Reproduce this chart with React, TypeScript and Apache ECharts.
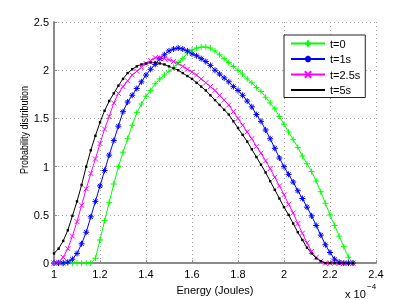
import React, { useEffect, useRef } from "react";
import * as echarts from "echarts";

const energy = [
  1.0, 1.02, 1.04, 1.06, 1.08, 1.1, 1.12, 1.14, 1.16, 1.18,
  1.2, 1.22, 1.24, 1.26, 1.28, 1.3, 1.32, 1.34, 1.36, 1.38,
  1.4, 1.42, 1.44, 1.46, 1.48, 1.5, 1.52, 1.54, 1.56, 1.58,
  1.6, 1.62, 1.64, 1.66, 1.68, 1.7, 1.72, 1.74, 1.76, 1.78,
  1.8, 1.82, 1.84, 1.86, 1.88, 1.9, 1.92, 1.94, 1.96, 1.98,
  2.0, 2.02, 2.04, 2.06, 2.08, 2.1, 2.12, 2.14, 2.16, 2.18,
  2.2, 2.22, 2.24, 2.26, 2.28, 2.3,
];

const pT0 = [
  0, 0, 0, 0, 0, 0, 0, 0, 0, 0.05,
  0.24, 0.44, 0.63, 0.82, 1.0, 1.15, 1.29, 1.43, 1.56, 1.65,
  1.73, 1.79, 1.86, 1.91, 1.95, 1.99, 2.03, 2.08, 2.12, 2.18,
  2.21, 2.23, 2.24, 2.24, 2.23, 2.2, 2.16, 2.12, 2.08, 2.04,
  2.0, 1.96, 1.91, 1.87, 1.82, 1.78, 1.72, 1.66, 1.6, 1.52,
  1.44, 1.36, 1.28, 1.2, 1.11, 1.03, 0.95, 0.85, 0.74, 0.62,
  0.5, 0.39, 0.28, 0.17, 0.06, 0,
];

const pT1 = [
  0, 0, 0, 0.01, 0.04, 0.1, 0.2, 0.32, 0.48, 0.64,
  0.8, 0.96, 1.12, 1.27, 1.42, 1.57, 1.67, 1.74, 1.81, 1.88,
  1.95, 2.01, 2.06, 2.12, 2.16, 2.2, 2.22, 2.23, 2.22, 2.2,
  2.17, 2.15, 2.12, 2.09, 2.05, 2.0, 1.96, 1.92, 1.88, 1.83,
  1.79, 1.74, 1.68, 1.62, 1.54, 1.47, 1.38, 1.29, 1.19, 1.09,
  1.0, 0.92, 0.84, 0.75, 0.67, 0.58, 0.49, 0.39, 0.29, 0.19,
  0.11, 0.04, 0.01, 0, 0, 0,
];

const pT25 = [
  0, 0.01, 0.06, 0.15, 0.28, 0.43, 0.6, 0.77, 0.93, 1.08,
  1.24, 1.39, 1.52, 1.66, 1.76, 1.83, 1.89, 1.95, 1.99, 2.03,
  2.07, 2.1, 2.13, 2.13, 2.12, 2.11, 2.09, 2.07, 2.04, 2.01,
  1.98, 1.95, 1.91, 1.87, 1.83, 1.79, 1.74, 1.69, 1.64, 1.57,
  1.5, 1.43, 1.36, 1.29, 1.21, 1.14, 1.06, 0.98, 0.89, 0.8,
  0.71, 0.61, 0.52, 0.41, 0.31, 0.21, 0.12, 0.06, 0.02, 0,
  0, 0, 0, 0, 0, 0,
];

const pT5 = [
  0.1, 0.15, 0.23, 0.34, 0.49, 0.64, 0.81, 1.0, 1.17, 1.32,
  1.46, 1.58, 1.68, 1.76, 1.84, 1.91, 1.97, 2.01, 2.04, 2.06,
  2.07, 2.08, 2.08, 2.07, 2.06, 2.04, 2.02, 2.0, 1.97, 1.94,
  1.91, 1.87, 1.83, 1.79, 1.74, 1.69, 1.64, 1.59, 1.54, 1.47,
  1.4, 1.33, 1.26, 1.18, 1.1, 1.02, 0.94, 0.85, 0.76, 0.67,
  0.58, 0.5, 0.41, 0.32, 0.24, 0.16, 0.1, 0.05, 0.02, 0,
  0, 0, 0, 0, 0, 0,
];

const seriesNames = ["t=0", "t=1s", "t=2.5s", "t=5s"];
const xTicks = { min: 1, max: 2.4, interval: 0.2 };
const yTicks = { min: 0, max: 2.5, interval: 0.5 };

const FONT = "'Liberation Sans', Arial, Helvetica, sans-serif";

const PLUS = "path://M5,0L5,10M0,5L10,5";
const CROSS = "path://M0,0L10,10M10,0L0,10";
const STAR = "path://M5,0L5,10M0,5L10,5M1.5,1.5L8.5,8.5M8.5,1.5L1.5,8.5";
const DOT = "path://M0,0L0,0M10,10L10,10M4,4L6,4L6,6L4,6Z";

function pairs(ys: number[]) {
  return energy.map((x, i) => [x, ys[i]]);
}

export default function App() {
  const ref = useRef<HTMLDivElement>(null);
  useEffect(() => {
    if (!ref.current) return;
    const chart = echarts.init(ref.current, undefined, { renderer: "svg" });
    const mk = (name: string, ys: number[], color: string, symbol: string, size: number, bw: number) => ({
      name,
      type: "line",
      data: pairs(ys),
      showSymbol: true,
      showAllSymbol: true,
      symbol,
      symbolSize: size,
      lineStyle: { color, width: 1 },
      itemStyle: { color, borderColor: color, borderWidth: bw },
      emphasis: { disabled: true },
    });
    chart.setOption({
      animation: false,
      textStyle: { fontFamily: FONT },
      grid: { left: 54, right: 39, top: 22, bottom: 34 },
      xAxis: {
        type: "value",
        min: xTicks.min,
        max: xTicks.max,
        interval: xTicks.interval,
        name: "Energy (Joules)",
        nameLocation: "middle",
        nameGap: 18,
        nameTextStyle: { color: "#000", fontSize: 11, fontFamily: FONT },
        axisLine: { show: true, lineStyle: { color: "#8a8a8a", width: 2 } },
        axisTick: { show: true, inside: true, length: 3, lineStyle: { color: "#8a8a8a" } },
        axisLabel: {
          color: "#000",
          fontSize: 11,
          fontFamily: FONT,
          margin: 5,
          formatter: (v: number) => String(+v.toFixed(1)),
        },
        splitLine: { show: true, lineStyle: { color: "#a0a0a0", type: [1, 3], width: 1 } },
      },
      yAxis: {
        type: "value",
        min: yTicks.min,
        max: yTicks.max,
        interval: yTicks.interval,
        axisLine: { show: true, lineStyle: { color: "#8a8a8a", width: 2 } },
        axisTick: { show: true, inside: true, length: 3, lineStyle: { color: "#8a8a8a" } },
        axisLabel: {
          color: "#000",
          fontSize: 11,
          fontFamily: FONT,
          margin: 5,
          formatter: (v: number) => String(+v.toFixed(1)),
        },
        splitLine: { show: true, lineStyle: { color: "#a0a0a0", type: [1, 3], width: 1 } },
      },
      legend: {
        orient: "vertical",
        left: 284,
        top: 35,
        padding: [3, 5, 2, 6],
        itemWidth: 34,
        itemHeight: 8,
        itemGap: 4.5,
        backgroundColor: "#fff",
        borderColor: "#222",
        borderWidth: 1,
        selectedMode: false,
        textStyle: { color: "#000", fontSize: 11, fontFamily: FONT },
        data: seriesNames,
      },
      graphic: [
        {
          type: "text",
          x: 24,
          y: 130,
          rotation: Math.PI / 2,
          scaleX: 0.82,
          style: {
            text: "Probability distribution",
            fontSize: 11,
            fontFamily: FONT,
            fill: "#000",
            align: "center",
            verticalAlign: "middle",
          },
        },
        {
          type: "text",
          left: 345,
          top: 288,
          style: { text: "x 10", fontSize: 11, fontFamily: FONT, fill: "#000" },
        },
        {
          type: "text",
          left: 367,
          top: 282,
          style: { text: "\u22124", fontSize: 8, fontFamily: FONT, fill: "#000" },
        },
      ],
      series: [
        mk(seriesNames[0], pT0, "#00ff00", PLUS, 6, 1),
        mk(seriesNames[1], pT1, "#0000ff", STAR, 6, 1),
        mk(seriesNames[2], pT25, "#ff00ff", CROSS, 5, 1),
        mk(seriesNames[3], pT5, "#000000", DOT, 12, 0),
      ],
    });
    return () => chart.dispose();
  }, []);
  return (
    <div
      ref={ref}
      style={{ position: "fixed", left: 0, top: 0, width: 415, height: 300 }}
    />
  );
}
